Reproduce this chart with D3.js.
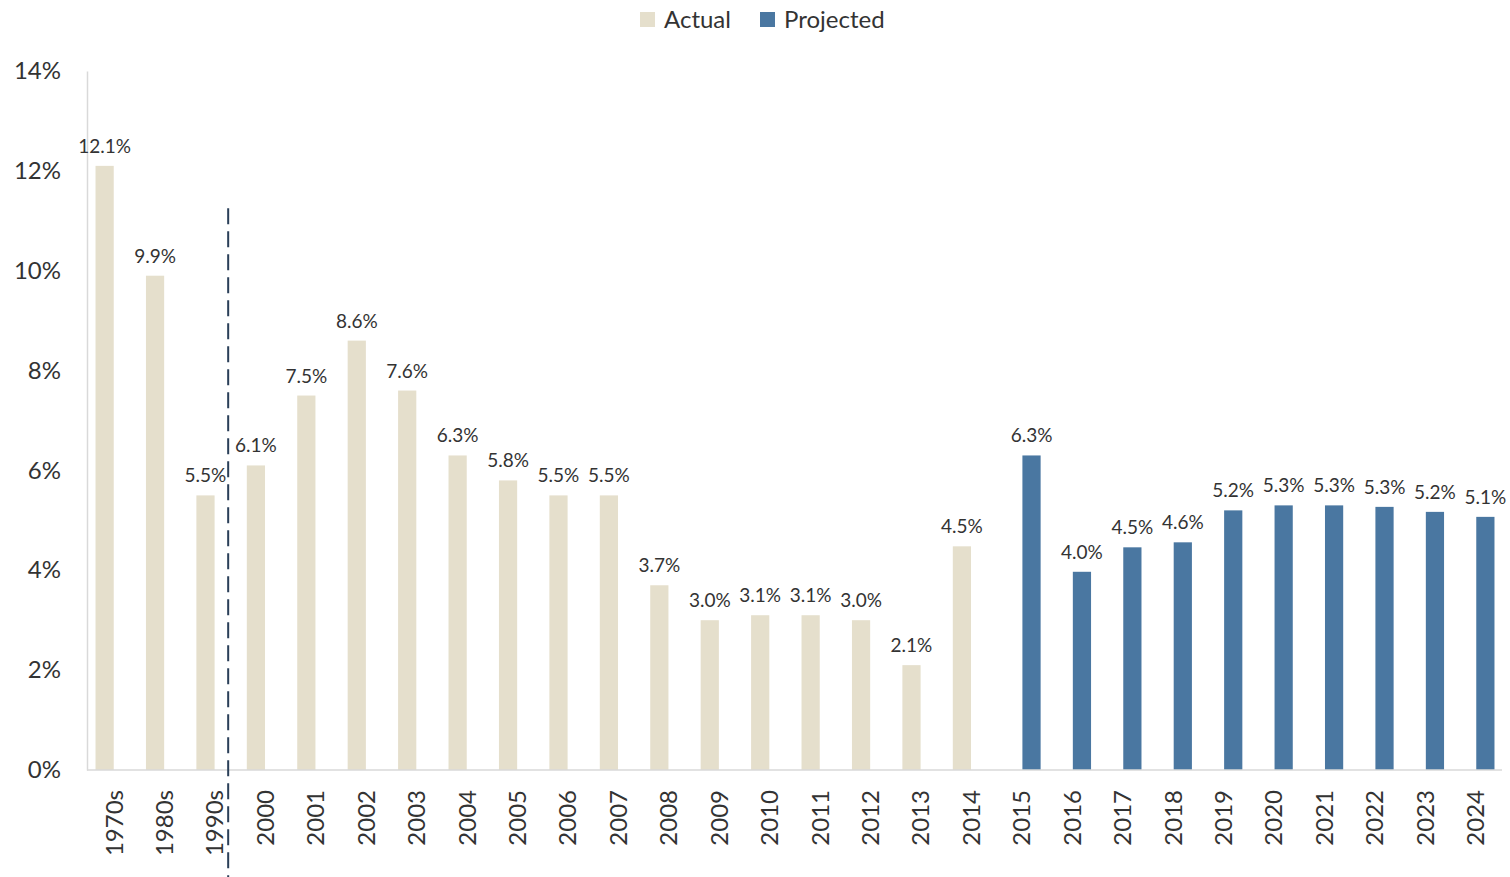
<!DOCTYPE html>
<html>
<head>
<meta charset="utf-8">
<script src="https://cdn.jsdelivr.net/npm/d3@7"></script>
<style>
  body { margin: 0; background: #fff; }
  text { font-family: Lato, "Noto Sans", sans-serif; fill: #333; }
</style>
</head>
<body>
<div id="chart"></div>
<script>
"use strict";

// categories and values (percent)
const categories = ["1970s", "1980s", "1990s", "2000", "2001", "2002", "2003", "2004", "2005",
  "2006", "2007", "2008", "2009", "2010", "2011", "2012", "2013", "2014",
  "2015", "2016", "2017", "2018", "2019", "2020", "2021", "2022", "2023", "2024"];
const actual = [12.1, 9.9, 5.5, 6.1, 7.5, 8.6, 7.6, 6.3, 5.8,
  5.5, 5.5, 3.7, 3.0, 3.1, 3.1, 3.0, 2.1, 4.48];
const projected = [6.3, 3.97, 4.46, 4.56, 5.2, 5.3, 5.3, 5.27, 5.17, 5.07];
const seriesNames = ["Actual", "Projected"];
const yTicks = [0, 2, 4, 6, 8, 10, 12, 14];

const colors = { Actual: "#e5dfcc", Projected: "#4a77a1" };

// build rows from the arrays
const rows = [];
actual.forEach(function(v, i) { rows.push({ cat: categories[i], series: "Actual", value: v }); });
projected.forEach(function(v, i) {
  rows.push({ cat: categories[actual.length + i], series: "Projected", value: v });
});

const W = 1510, H = 877;
const svg = d3.select("#chart").append("svg")
  .attr("width", W)
  .attr("height", H);

const x = d3.scaleBand().domain(categories).range([89, 1501]).padding(0);
const x1 = d3.scaleBand().domain(seriesNames).range([0, x.bandwidth()])
  .paddingInner(0.05).paddingOuter(0.34);
const y = d3.scaleLinear().domain([0, 14]).range([770, 71]);

// y axis
const yAxis = svg.append("g")
  .attr("transform", "translate(87,0)")
  .call(d3.axisLeft(y).tickValues(yTicks).tickSize(0).tickPadding(26)
    .tickFormat(function(d) { return d + "%"; }));
yAxis.select(".domain").attr("stroke", "#d9d9d9").attr("stroke-width", 1.5);
yAxis.selectAll("text").style("font-size", "24px").attr("fill", "#333");

// bars
svg.append("g")
  .selectAll("rect")
  .data(rows)
  .join("rect")
    .attr("x", function(d) { return x(d.cat) + x1(d.series); })
    .attr("width", x1.bandwidth())
    .attr("y", function(d) { return y(d.value); })
    .attr("height", function(d) { return y(0) - y(d.value); })
    .attr("fill", function(d) { return colors[d.series]; });

// data labels
const fmt = d3.format(".1f");
svg.append("g")
  .selectAll("text")
  .data(rows)
  .join("text")
    .attr("x", function(d) { return x(d.cat) + x1(d.series) + x1.bandwidth() / 2; })
    .attr("y", function(d) { return y(d.value) - 13; })
    .attr("text-anchor", "middle")
    .style("font-size", "19px")
    .text(function(d) { return fmt(d.value) + "%"; });

// x axis
const xAxis = svg.append("g")
  .attr("transform", "translate(0,770)")
  .call(d3.axisBottom(x).tickSize(0).tickPadding(0));
xAxis.select(".domain").remove();
svg.append("line")
  .attr("x1", 87).attr("x2", 1502)
  .attr("y1", y(0)).attr("y2", y(0))
  .attr("stroke", "#d9d9d9").attr("stroke-width", 1.5);
xAxis.selectAll("text")
  .style("font-size", "24px")
  .attr("fill", "#333")
  .style("text-anchor", "end")
  .attr("transform", "rotate(-90)")
  .attr("x", -20)
  .attr("y", 0)
  .attr("dy", "0.35em");

// dashed separator between decades and years
const sepX = x("2000") - x.step() * 0.24;
svg.append("line")
  .attr("x1", sepX).attr("x2", sepX)
  .attr("y1", y(11.25)).attr("y2", H)
  .attr("stroke", "#2a3f58")
  .attr("stroke-width", 2)
  .attr("stroke-dasharray", "16,7");

// legend
const legend = svg.append("g");
const legendItems = [{ name: "Actual", x: 640 }, { name: "Projected", x: 760 }];
legendItems.forEach(function(it) {
  legend.append("rect")
    .attr("x", it.x).attr("y", 12)
    .attr("width", 15).attr("height", 15)
    .attr("fill", colors[it.name]);
  legend.append("text")
    .attr("x", it.x + 24).attr("y", 28)
    .style("font-size", "24px")
    .text(it.name);
});
</script>
</body>
</html>
